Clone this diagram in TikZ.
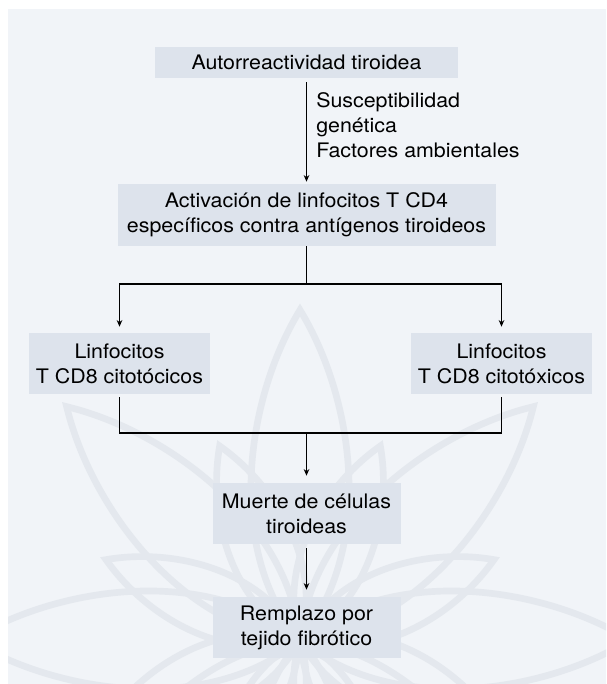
\documentclass[tikz,border=0pt]{standalone}
\usepackage{fontspec}
\setmainfont[FakeStretch=1.07]{TeX Gyre Heros}
\usetikzlibrary{arrows.meta}
\definecolor{panelgray}{HTML}{F1F4F8}
\definecolor{boxblue}{HTML}{DDE3EC}
\definecolor{leafgray}{HTML}{E4E8EE}
\tikzset{
  flowbox/.style={fill=boxblue, inner sep=0pt, align=center, font=\fontsize{15}{18.75}\selectfont},
  flowline/.style={line width=0.8pt},
  flowarrow/.style={flowline, -{Stealth[length=5pt,width=4.2pt]}},
  leaf/.style={draw=leafgray, line width=5pt},
}
\begin{document}
\begin{tikzpicture}[x=0.75pt,y=-0.75pt]
  \useasboundingbox (0,0) rectangle (606,684);
  \fill[panelgray] (8,9) rectangle (606,684);
  % faint flower in the back
  \begin{scope}
    \clip (8,9) rectangle (606,684);
    \begin{scope}[shift={(300,640)}]
      \foreach \a in {0,45,...,315}{
        \draw[leaf, rotate=\a] (0,0) .. controls (90,-75) and (240,-55) .. (330,0) .. controls (240,55) and (90,75) .. (0,0);
        \draw[leaf, rotate=\a+22.5] (0,0) .. controls (60,-50) and (150,-38) .. (210,0) .. controls (150,38) and (60,50) .. (0,0);
      }
    \end{scope}
  \end{scope}

  \node[flowbox, minimum width=227.25pt, minimum height=23.25pt] (auto) at (306.5,62.5) {Autorreactividad tiroidea};
  \node[flowbox, minimum width=283.5pt, minimum height=46.5pt] (cd4) at (306.5,215) {Activación de linfocitos T CD4\\específicos contra antígenos tiroideos};
  \node[flowbox, minimum width=135.75pt, minimum height=45.75pt] (cd8a) at (119.5,363.5) {Linfocitos\\T CD8 citotócicos};
  \node[flowbox, minimum width=135.75pt, minimum height=45.75pt] (cd8b) at (501.5,363.5) {Linfocitos\\T CD8 citotóxicos};
  \node[flowbox, minimum width=141pt, minimum height=45.75pt] (muerte) at (306.5,513.5) {Muerte de células\\tiroideas};
  \node[flowbox, minimum width=141pt, minimum height=45.75pt] (remplazo) at (306.5,627.5) {Remplazo por\\tejido fibrótico};
  \node[anchor=north west, inner sep=0pt, align=left, font=\fontsize{15}{18.75}\selectfont] (factores) at (316,92.5) {Susceptibilidad\\genética\\Factores ambientales};

  \coordinate (split) at (306.5,284);
  \coordinate (join) at (306.5,433);

  \draw[flowarrow, shorten <=3pt, shorten >=1.5pt] (auto.south) -- (cd4.north);
  \draw[flowline] (cd4.south) -- (split);
  \draw[flowarrow, shorten >=4.5pt] (split) -| (cd8a.north);
  \draw[flowarrow, shorten >=4.5pt] (split) -| (cd8b.north);
  \draw[flowline, shorten <=2.25pt, shorten >=2.25pt] (cd8a.south) |- (join) -| (cd8b.south);
  \draw[flowarrow, shorten >=5.25pt] (join) -- (muerte.north);
  \draw[flowarrow, shorten <=3pt, shorten >=5.25pt] (muerte.south) -- (remplazo.north);
\end{tikzpicture}
\end{document}
